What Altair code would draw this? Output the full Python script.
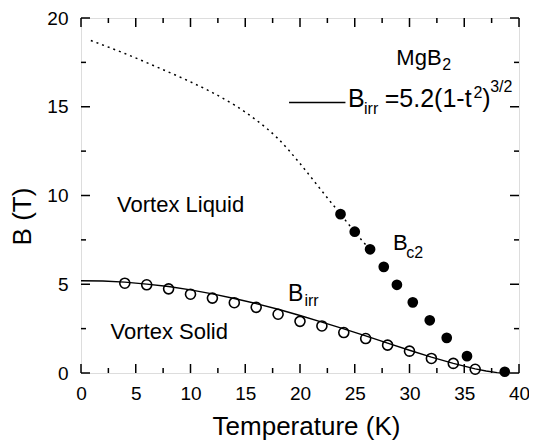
import altair as alt
import pandas as pd

# ---- data ----
T_irr = [4, 6, 8, 10, 12, 14, 16, 18, 20, 22, 24, 26, 28, 30, 32, 34, 36]
B_irr = [5.06, 4.97, 4.74, 4.44, 4.22, 3.96, 3.70, 3.31, 2.91, 2.65, 2.28, 1.94, 1.57, 1.23, 0.82, 0.54, 0.21]

T_c2 = [23.7, 25.0, 26.4, 27.65, 28.85, 30.3, 31.85, 33.4, 35.25, 38.7]
B_c2 = [8.95, 7.96, 6.97, 5.98, 4.97, 3.98, 2.97, 1.98, 0.95, 0.07]

T_fit = [0, 2, 4, 6, 8, 10, 12, 14, 16, 18, 20, 22, 24, 26, 28, 30, 32, 34, 36, 37, 38, 38.5]
B_fit = [5.20, 5.18, 5.12, 5.01, 4.87, 4.68, 4.46, 4.20, 3.91, 3.59, 3.24, 2.87, 2.49, 2.09,
         1.68, 1.28, 0.89, 0.54, 0.23, 0.11, 0.02, 0.0]

T_dot = [0.9, 4, 7, 10, 12, 14, 16, 18, 20, 22, 23.7, 25.0, 26.4]
B_dot = [18.73, 18.0, 17.22, 16.4, 15.8, 15.1, 14.25, 13.2, 11.8, 10.25, 8.95, 7.95, 6.95]

x_major = [0, 5, 10, 15, 20, 25, 30, 35, 40]
x_minor = [2.5, 7.5, 12.5, 17.5, 22.5, 27.5, 32.5, 37.5]
y_major = [0, 5, 10, 15, 20]
y_minor = [2.5, 7.5, 12.5, 17.5]

# annotation texts (position in data units, font size)
ann_text = ["Vortex Liquid", "Vortex Solid", "B", "irr", "B", "c2", "MgB", "2",
            "B", "irr", "=5.2(1-t", "2", ")", "3/2"]
ann_T = [3.29, 2.70, 18.9, 20.4, 28.5, 29.7, 28.8, 33.0,
         24.39, 25.85, 27.74, 35.84, 36.65, 37.37]
ann_B = [9.08, 1.89, 4.06, 3.75, 6.93, 6.46, 17.38, 17.07,
         14.96, 14.57, 14.96, 15.52, 14.96, 15.85]
ann_fs = [22, 22, 23, 16, 22, 16, 22, 16, 25, 16, 25, 16, 25, 16]

legend_T = [19.0]
legend_T2 = [24.15]
legend_B = [15.24]

W, H = 438, 355
FONT = "Liberation Sans"

xs = alt.Scale(domain=[0, 40], nice=False, zero=False)
ys = alt.Scale(domain=[0, 20], nice=False, zero=False)

x_axis = alt.Axis(values=x_major, title="Temperature (K)", ticks=False, domain=False, grid=False,
                  labelFontSize=19, labelPadding=11, labelFlush=False,
                  titleFontSize=26, titleFontWeight="normal", titleX=225, titleY=61,
                  titleBaseline="alphabetic", titleAlign="center")
y_axis = alt.Axis(values=y_major, title="B (T)", ticks=False, domain=False, grid=False,
                  labelFontSize=19, labelPadding=13,
                  titleFontSize=26, titleFontWeight="normal", titleAngle=270,
                  titleX=-59, titleY=198, titleAlign="center", titleBaseline="middle")


def X(field):
    return alt.X(field, scale=xs, axis=x_axis)


def Y(field):
    return alt.Y(field, scale=ys, axis=y_axis)


fit_df = pd.DataFrame({"T": T_fit, "B": B_fit})
dot_df = pd.DataFrame({"T": T_dot, "B": B_dot})
irr_df = pd.DataFrame({"T": T_irr, "B": B_irr})
c2_df = pd.DataFrame({"T": T_c2, "B": B_c2})
ann_df = pd.DataFrame({"T": ann_T, "B": ann_B, "text": ann_text, "fs": ann_fs})
leg_df = pd.DataFrame({"T": legend_T, "T2": legend_T2, "B": legend_B})

fit = alt.Chart(fit_df).mark_line(color="black", strokeWidth=1.4).encode(
    x=X("T:Q"), y=Y("B:Q"),
)
dotted = alt.Chart(dot_df).mark_line(color="black", strokeWidth=1.5, strokeDash=[2, 4],
                                     interpolate="monotone").encode(
    x=X("T:Q"), y=Y("B:Q"),
)
open_pts = alt.Chart(irr_df).mark_point(shape="circle", filled=False, color="black",
                                        strokeWidth=1.6, size=100, opacity=1).encode(
    x=X("T:Q"), y=Y("B:Q"),
)
filled_pts = alt.Chart(c2_df).mark_point(shape="circle", filled=True, color="black",
                                         size=115, opacity=1).encode(
    x=X("T:Q"), y=Y("B:Q"),
)
legend_line = alt.Chart(leg_df).mark_rule(color="black", strokeWidth=1.4).encode(
    x=X("T:Q"), x2="T2:Q", y=Y("B:Q"),
)
texts = alt.Chart(ann_df).mark_text(align="left", baseline="alphabetic", color="black",
                                    font=FONT).encode(
    x=X("T:Q"), y=Y("B:Q"),
    text="text:N",
    size=alt.Size("fs:Q", scale=None, legend=None),
)


def tick_layer(vals, axis, side, length):
    df = pd.DataFrame({"v": vals})
    m = alt.Chart(df).mark_rule(color="black", strokeWidth=1.5)
    if axis == "x":
        enc = dict(x=X("v:Q"))
        if side == "bottom":
            enc.update(y=alt.value(H), y2=alt.value(H - length))
        else:
            enc.update(y=alt.value(0), y2=alt.value(length))
    else:
        enc = dict(y=Y("v:Q"))
        if side == "left":
            enc.update(x=alt.value(0), x2=alt.value(length))
        else:
            enc.update(x=alt.value(W), x2=alt.value(W - length))
    return m.encode(**enc)


ticks = [
    tick_layer(x_major, "x", "bottom", 9), tick_layer(x_minor, "x", "bottom", 5),
    tick_layer(x_major, "x", "top", 9), tick_layer(x_minor, "x", "top", 5),
    tick_layer(y_major, "y", "left", 9), tick_layer(y_minor, "y", "left", 5),
    tick_layer(y_major, "y", "right", 9), tick_layer(y_minor, "y", "right", 5),
]

chart = alt.layer(fit, dotted, open_pts, filled_pts, legend_line, texts, *ticks).properties(
    width=W, height=H,
    autosize=alt.AutoSizeParams(type="none"),
    padding={"left": 73, "top": 10, "right": 10, "bottom": 67},
).configure_view(
    stroke="black", strokeWidth=2,
).configure_axis(
    labelFont=FONT, titleFont=FONT, labelColor="black", titleColor="black",
).configure(background="white")

chart.save("out.html", embed_options={"renderer": "svg", "actions": False})
